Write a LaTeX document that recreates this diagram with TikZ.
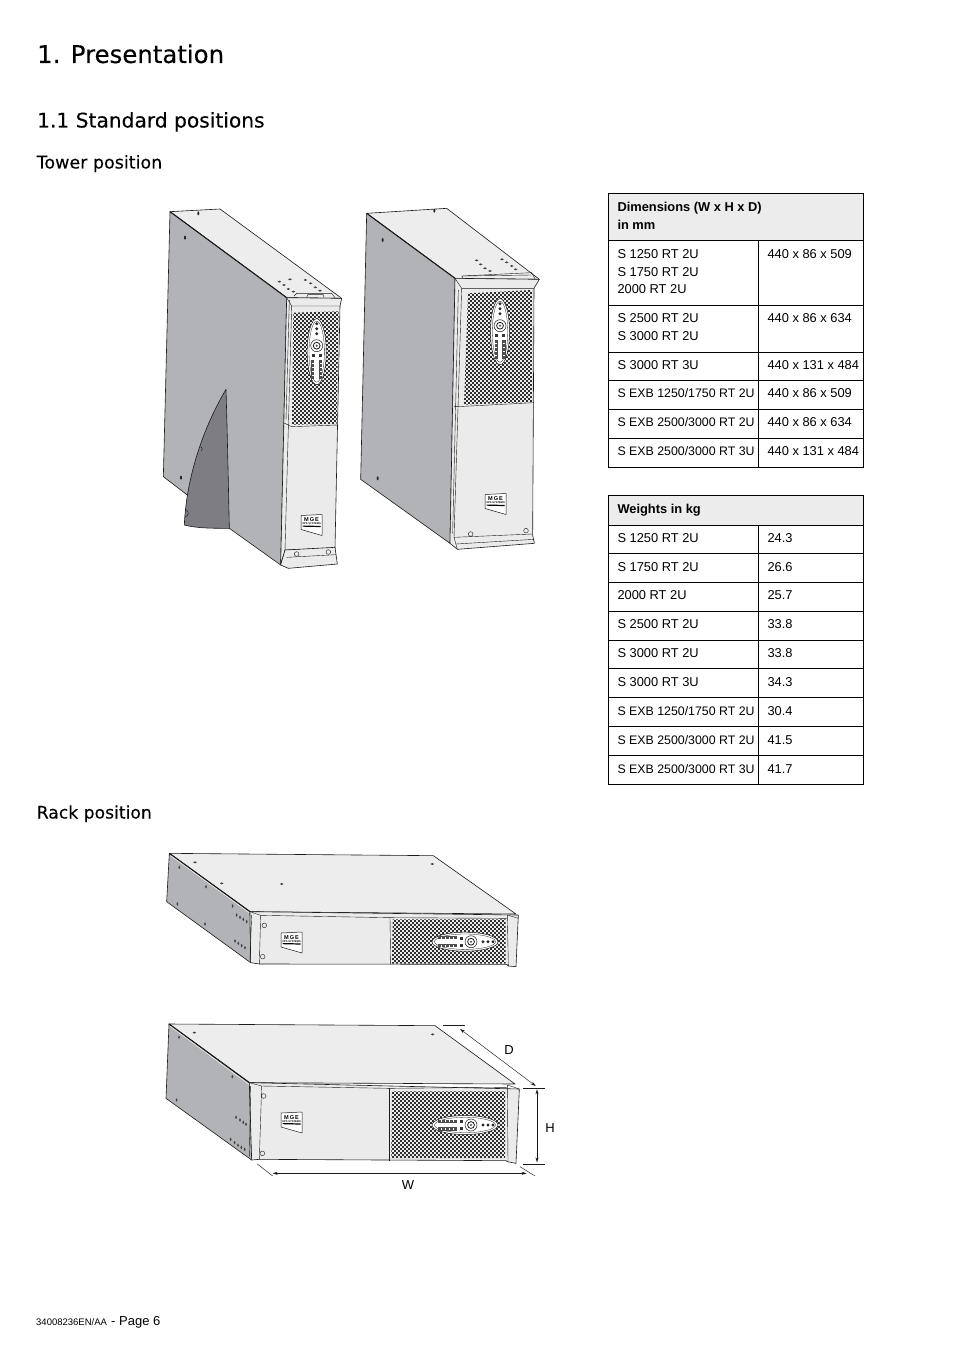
\documentclass[tikz,border=0pt]{standalone}
\usepackage{fontspec}
\setmainfont{Liberation Sans}
\newfontfamily\headfont{DejaVu Sans}
\newfontfamily\subheadfont[FakeBold=0.12]{DejaVu Sans}
\usetikzlibrary{calc,arrows.meta}
\definecolor{topc}{HTML}{EDEDEE}
\definecolor{sidec}{HTML}{B1B3B6}
\definecolor{frontc}{HTML}{EBEBEC}
\definecolor{darkc}{HTML}{7E7E82}
\definecolor{headc}{HTML}{ECECED}
\definecolor{inkc}{HTML}{1A1A1A}
\newcounter{nn}
\tikzset{
  txtstyle/.style={anchor=base west,inner sep=0pt,outer sep=0pt,font=\fontsize{12.85}{15}\selectfont,text=black},
  boldstyle/.style={txtstyle,font=\fontsize{12.85}{15}\selectfont\bfseries},
  narrowstyle/.style={txtstyle,font=\fontsize{12.35}{15}\selectfont},
  dimstyle/.style={anchor=center,inner sep=0pt,font=\fontsize{13}{15}\selectfont},
  rule/.style={draw=black,line width=0.8pt},
  face/.style={draw=inkc,line width=0.6pt,line join=round},
  thin line/.style={draw=inkc,line width=0.4pt},
  dimline/.style={draw=inkc,line width=0.45pt},
  dimarrow/.style={dimline,{Stealth[length=5pt,width=3pt]}-{Stealth[length=5pt,width=3pt]}},
  panel/.pic={
    \draw[face,fill=white,line width=0.5pt] (0,0) ellipse [x radius=33,y radius=9.5];
    \draw[thin line,line width=0.3pt] (0,0) ellipse [x radius=30.5,y radius=7.7];
    \fill[black!70] (-27,-5.5) rectangle (-8,-2.3);
    \fill[black!70] (-27,2.3) rectangle (-8,5.5);
    \foreach \k in {-24,-20,-16,-12}{
      \fill[white] (\k,-5) rectangle ++(1.1,2.2);
      \fill[white] (\k,2.8) rectangle ++(1.1,2.2);}
    \fill[black!80] (-5,-4.6) rectangle (-2.4,-2);
    \fill[black!80] (-5,2.2) rectangle (-2.4,4.8);
    \draw[thin line,line width=0.5pt] (6,0) circle [radius=6];
    \draw[thin line,line width=0.8pt] (6,0) circle [radius=3.4];
    \fill[black!70] (6,0) circle [radius=1.2];
    \foreach \k in {18,23,28}{\fill[black!85] (\k,0) circle [radius=1.6];}
  },
  logo/.pic={
    \draw[face,fill=white,line width=0.5pt] (0,0) -- (21,-1) -- (21,20) -- (0,14) -- cycle;
    \node[inner sep=0pt,font=\fontsize{5.6}{6}\selectfont\bfseries] (-mge) at (10.5,4.2) {M\,G\,E};
    \node[inner sep=0pt,font=\fontsize{2.6}{3}\selectfont\bfseries] (-ups) at (10.5,8.2) {UPS SYSTEMS};
    \fill[black] (1.5,10) -- (19.5,10.4) -- (19.5,11.6) -- (1.5,11.2) -- cycle;
  },
}
% pixel-aligned checker grille clipped to the quad of named corners: TL,TR,BR,BL,x0,y0,nx,ny
\newcommand\grille[8]{%
  \begin{scope}
  \clip (#1) -- (#2) -- (#3) -- (#4) -- cycle;
  \foreach \gi in {0,...,#7}{\foreach \gj in {0,...,#8}{%
    \pgfmathtruncatemacro\gm{mod(\gi+\gj,2)}%
    \ifnum\gm=0
      \fill[black!82] ({#5+2*\gi},{#6+2*\gj}) rectangle ++(2.1,2.1);
    \fi}}
  \end{scope}}
\newcommand\txt[4][txtstyle]{\stepcounter{nn}\node[#1] (t\thenn) at (#2,#3) {#4};}
\newcommand\sdot[2]{\fill[black!75] (#1,#2) ellipse [x radius=5.5,y radius=3];}
\newcommand\vdot[2]{\fill[black!75] (#1,#2) ellipse [x radius=2.8,y radius=5.5];}
\begin{document}
\begin{tikzpicture}[x=1pt,y=-1pt]
\useasboundingbox (0,0) rectangle (954,1351);
\fill[white] (0,0) rectangle (954,1351);
% headings
\node[anchor=base west,inner sep=0pt,font=\subheadfont\fontsize{24.4}{28}\selectfont] (h1) at (37,63) {1. Presentation};
\node[anchor=base west,inner sep=0pt,font=\subheadfont\fontsize{20.2}{24}\selectfont] (h2) at (37,127.5) {1.1 Standard positions};
\node[anchor=base west,inner sep=0pt,font=\subheadfont\fontsize{17.5}{20}\selectfont] (h3) at (36.5,168.5) {Tower position};
\node[anchor=base west,inner sep=0pt,font=\subheadfont\fontsize{17.2}{20}\selectfont] (h4) at (36.5,818.5) {Rack position};
\node[anchor=base west,inner sep=0pt,font=\fontsize{9.5}{11}\selectfont] (f1) at (36,1325.2) {34008236EN/AA};
\node[anchor=base west,inner sep=0pt,font=\fontsize{13}{15}\selectfont] (f2) at (111,1325.2) {- Page 6};

% ---------- Tower 1
\begin{scope}[shift={(150,200)},scale=1/3]
\filldraw[face,fill=topc] (60,35) -- (210,27) -- (575,295) -- (410,293) -- cycle;
\filldraw[face,fill=sidec] (60,35) -- (410,293) -- (392,1095) -- (238,985) -- (108,882) -- (40,830) -- cycle;
\draw[line width=1pt,inkc] (60,35) -- (410,293);
\filldraw[face,fill=darkc] (228,568) .. controls (232,700) and (235,850) .. (238,985) .. controls (190,985) and (140,985) .. (103,975) .. controls (108,850) and (150,700) .. (228,568) -- cycle;
\draw[thin line] (150,740) arc (-90:60:7);
\draw[thin line] (105,930) arc (-90:90:10);
\filldraw[face,fill=frontc] (410,293) -- (575,295) -- (570,318) -- (555,1045) -- (405,1050) -- (392,1095) -- cycle;
\draw[thin line] (410,293) -- (425,318) -- (570,318);
\draw[thin line] (425,318) -- (405,1050);
\draw[thin line] (418,300) -- (408,660);
\draw[thin line] (432,288) -- (440,280) -- (545,280) -- (555,293);
\draw[thin line] (470,293) -- (473,284) -- (520,284) -- (522,293);
\draw[thin line] (400,668) -- (425,680) -- (565,675);
\filldraw[face,fill=frontc] (392,1095) -- (405,1050) -- (555,1042) -- (562,1092) -- (415,1105) -- cycle;
\draw[thin line] (410,1072) -- (558,1064);
\draw[thin line] (440,1062) circle [radius=7];
\draw[thin line] (535,1056) circle [radius=7];
\coordinate (ga) at (430,338); \coordinate (gb) at (566,334);
\coordinate (gc) at (560,672); \coordinate (gd) at (426,674);
\foreach \p/\q in {145/40,105/113,93/833}{\fill[black!85] (\p,\q) ellipse [x radius=3,y radius=6];}
\foreach \p/\q in {388/245,402/255,415/267,430/275,420/238,466/240,482/250,496/262,510/272}{\sdot{\p}{\q}}
\end{scope}
\grille{ga}{gb}{gc}{gd}{292}{310}{24}{58}
\pic at (316.7,351.7) [rotate=90] {panel};
\pic (lg1) at (301,515.5) {logo};

% ---------- Tower 2
\begin{scope}[shift={(350,200)},scale=1/3]
\filldraw[face,fill=topc] (50,40) -- (290,25) -- (568,238) -- (315,235) -- cycle;
\filldraw[face,fill=sidec] (50,40) -- (315,235) -- (300,1030) -- (32,838) -- cycle;
\draw[line width=1pt,inkc] (50,40) -- (315,235);
\filldraw[face,fill=frontc] (315,235) -- (568,238) -- (552,265) -- (548,1005) -- (553,1030) -- (322,1048) -- (300,1030) -- cycle;
\draw[thin line] (315,235) -- (335,265) -- (552,265);
\draw[thin line] (335,265) -- (312,1012) -- (322,1048);
\draw[thin line] (325,270) -- (308,1000);
\draw[thin line] (340,235) -- (335,228) -- (545,218) -- (555,236);
\draw[thin line] (345,228) -- (545,225);
\draw[thin line] (312,620) -- (322,620) -- (552,608);
\draw[thin line] (312,1012) -- (548,1002);
\draw[thin line] (318,1032) -- (553,1018);
\draw[thin line] (362,1002) circle [radius=7];
\draw[thin line] (528,992) circle [radius=7];
\coordinate (ha) at (354,280); \coordinate (hb) at (546,270);
\coordinate (hc) at (546,606); \coordinate (hd) at (342,614);
\foreach \p/\q in {253/32,98/120,83/835}{\fill[black!85] (\p,\q) ellipse [x radius=3,y radius=6];}
\foreach \p/\q in {380/181,392/193,405/205,420/213,456/178,470/187,485/198,497/208}{\sdot{\p}{\q}}
\end{scope}
\grille{ha}{hb}{hc}{hd}{464}{290}{35}{58}
\pic at (500,331.7) [rotate=90] {panel};
\pic (lg2) at (485,494.5) {logo};

% ---------- Rack 1
\begin{scope}[shift={(150,840)},scale=1/3]
\filldraw[face,fill=topc] (58,40) -- (850,47) -- (1098,222) -- (300,215) -- cycle;
\filldraw[face,fill=sidec] (58,40) -- (300,215) -- (302,368) -- (50,185) -- cycle;
\draw[line width=1.1pt,inkc] (58,40) -- (300,215);
\draw[topc,line width=0.6pt] (62,47) -- (299,219);
\filldraw[face,fill=frontc] (300,215) -- (1105,225) -- (1098,380) -- (1075,378) -- (1070,373) -- (328,372) -- (302,368) -- cycle;
\draw[thin line] (300,215) -- (332,226) -- (720,233) -- (1070,235);
\draw[thin line] (332,226) -- (328,372);
\draw[thin line] (720,233) -- (722,373);
\draw[thin line] (1072,225) -- (1075,378);
\draw[thin line] (1072,225) -- (1105,235);
\draw[thin line] (305,225) -- (300,360);
\draw[thin line] (343,256) circle [radius=7];
\draw[thin line] (338,350) circle [radius=7];
\coordinate (ia) at (728,238); \coordinate (ib) at (1067,238);
\coordinate (ic) at (1067,371); \coordinate (id) at (726,371);
\foreach \p/\q in {135/67,215/130,395/132,847/72}{\sdot{\p}{\q}}
\foreach \p/\q in {88/82,168/140,248/198,82/192,165/252,260/225,270/232,280/238,290/245,255/303,265/310,275/317,285/323}{\vdot{\p}{\q}}
\end{scope}
\grille{ia}{ib}{ic}{id}{392}{918}{58}{24}
\pic at (465,941.7) {panel};
\pic (lg3) at (281,933) {logo};

% ---------- Rack 2
\begin{scope}[shift={(150,1010)},scale=1/3]
\filldraw[face,fill=topc] (57,42) -- (855,47) -- (1095,222) -- (298,218) -- cycle;
\filldraw[face,fill=sidec] (57,42) -- (298,218) -- (305,450) -- (48,265) -- cycle;
\draw[line width=1.1pt,inkc] (57,42) -- (298,218);
\draw[topc,line width=0.6pt] (61,49) -- (297,223);
\filldraw[face,fill=frontc] (298,218) -- (1108,237) -- (1098,460) -- (1072,455) -- (1068,452) -- (328,448) -- (305,450) -- cycle;
\draw[thin line] (298,218) -- (335,228) -- (718,235) -- (1070,232);
\draw[thin line] (335,228) -- (328,448);
\draw[thin line] (718,235) -- (718,453);
\draw[thin line] (1072,225) -- (1074,455);
\draw[thin line] (1072,225) -- (1108,237);
\draw[thin line] (302,228) -- (298,440);
\draw[thin line] (341,258) circle [radius=7];
\draw[thin line] (337,430) circle [radius=7];
\coordinate (ja) at (726,244); \coordinate (jb) at (1065,244);
\coordinate (jc) at (1065,444); \coordinate (jd) at (724,444);
\foreach \p/\q in {133/68,848/73}{\sdot{\p}{\q}}
\foreach \p/\q in {87/82,247/200,80/270,258/322,270/330,280/337,288/343,242/388,254/398,264/406,274/412,284/418}{\vdot{\p}{\q}}
\coordinate (d1a) at (880,47); \coordinate (d1b) at (945,47);
\coordinate (d2a) at (1120,235); \coordinate (d2b) at (1185,235);
\coordinate (da) at (930,57); \coordinate (db) at (1157,228);
\coordinate (ha1) at (1161,238); \coordinate (ha2) at (1161,457);
\coordinate (h2a) at (1118,462); \coordinate (h2b) at (1185,462);
\coordinate (wa) at (368,490); \coordinate (wb) at (1130,490);
\coordinate (w1a) at (322,462); \coordinate (w1b) at (368,498);
\coordinate (w2a) at (1110,470); \coordinate (w2b) at (1155,498);
\end{scope}
\grille{ja}{jb}{jc}{jd}{390}{1090}{58}{35}
\pic at (465,1125) {panel};
\pic (lg4) at (281,1113) {logo};
\draw[dimline] (d1a) -- (d1b);
\draw[dimline] (d2a) -- (d2b);
\draw[dimline] (h2a) -- (h2b);
\draw[dimline] (w1a) -- (w1b);
\draw[dimline] (w2a) -- (w2b);
\draw[dimarrow] (da) -- (db);
\draw[dimarrow] (ha1) -- (ha2);
\draw[dimarrow] (wa) -- (wb);
\node[dimstyle] (lblD) at (509,1050) {D};
\node[dimstyle] (lblH) at (550,1128.5) {H};
\node[dimstyle] (lblW) at (408,1185) {W};

% ---------- Table 1
\fill[headc] (608,193.5) rectangle (863.5,240);
\draw[rule] (608,193.5) rectangle (863.5,467);
\draw[rule] (758,240) -- (758,467);
\foreach \y in {240,305,352,380,409,438}{\draw[rule] (608,\y) -- (863.5,\y);}
\txt[boldstyle]{617.5}{211.5}{Dimensions (W x H x D)}
\txt[boldstyle]{617.5}{229.5}{in mm}
\txt{617.5}{258.5}{S 1250 RT 2U}
\txt{617.5}{276}{S 1750 RT 2U}
\txt{617.5}{293.5}{2000 RT 2U}
\txt{767.5}{258.5}{440 x 86 x 509}
\txt{617.5}{322.5}{S 2500 RT 2U}
\txt{617.5}{340.5}{S 3000 RT 2U}
\txt{767.5}{322.5}{440 x 86 x 634}
\txt{617.5}{369.5}{S 3000 RT 3U}
\txt{767.5}{369.5}{440 x 131 x 484}
\txt[narrowstyle]{617.5}{397.5}{S EXB 1250/1750 RT 2U}
\txt{767.5}{397.5}{440 x 86 x 509}
\txt[narrowstyle]{617.5}{426.5}{S EXB 2500/3000 RT 2U}
\txt{767.5}{426.5}{440 x 86 x 634}
\txt[narrowstyle]{617.5}{455.5}{S EXB 2500/3000 RT 3U}
\txt{767.5}{455.5}{440 x 131 x 484}

% ---------- Table 2
\fill[headc] (608,495.5) rectangle (863.5,525);
\draw[rule] (608,495.5) rectangle (863.5,784);
\draw[rule] (758,525) -- (758,784);
\foreach \y in {525,553.5,582,611,640,668.5,697.5,726.5,755.5}{\draw[rule] (608,\y) -- (863.5,\y);}
\txt[boldstyle]{617.5}{513}{Weights in kg}
\foreach \y/\a/\b in {542.5/S 1250 RT 2U/24.3,571/S 1750 RT 2U/26.6,599.5/2000 RT 2U/25.7,628.5/S 2500 RT 2U/33.8,657.5/S 3000 RT 2U/33.8,686.5/S 3000 RT 3U/34.3}{
  \txt{617.5}{\y}{\a}
  \txt{767.5}{\y}{\b}
}
\foreach \y/\a/\b in {715.5/S EXB 1250\slash 1750 RT 2U/30.4,744.5/S EXB 2500\slash 3000 RT 2U/41.5,773.5/S EXB 2500\slash 3000 RT 3U/41.7}{
  \txt[narrowstyle]{617.5}{\y}{\a}
  \txt{767.5}{\y}{\b}
}
\end{tikzpicture}
\end{document}
